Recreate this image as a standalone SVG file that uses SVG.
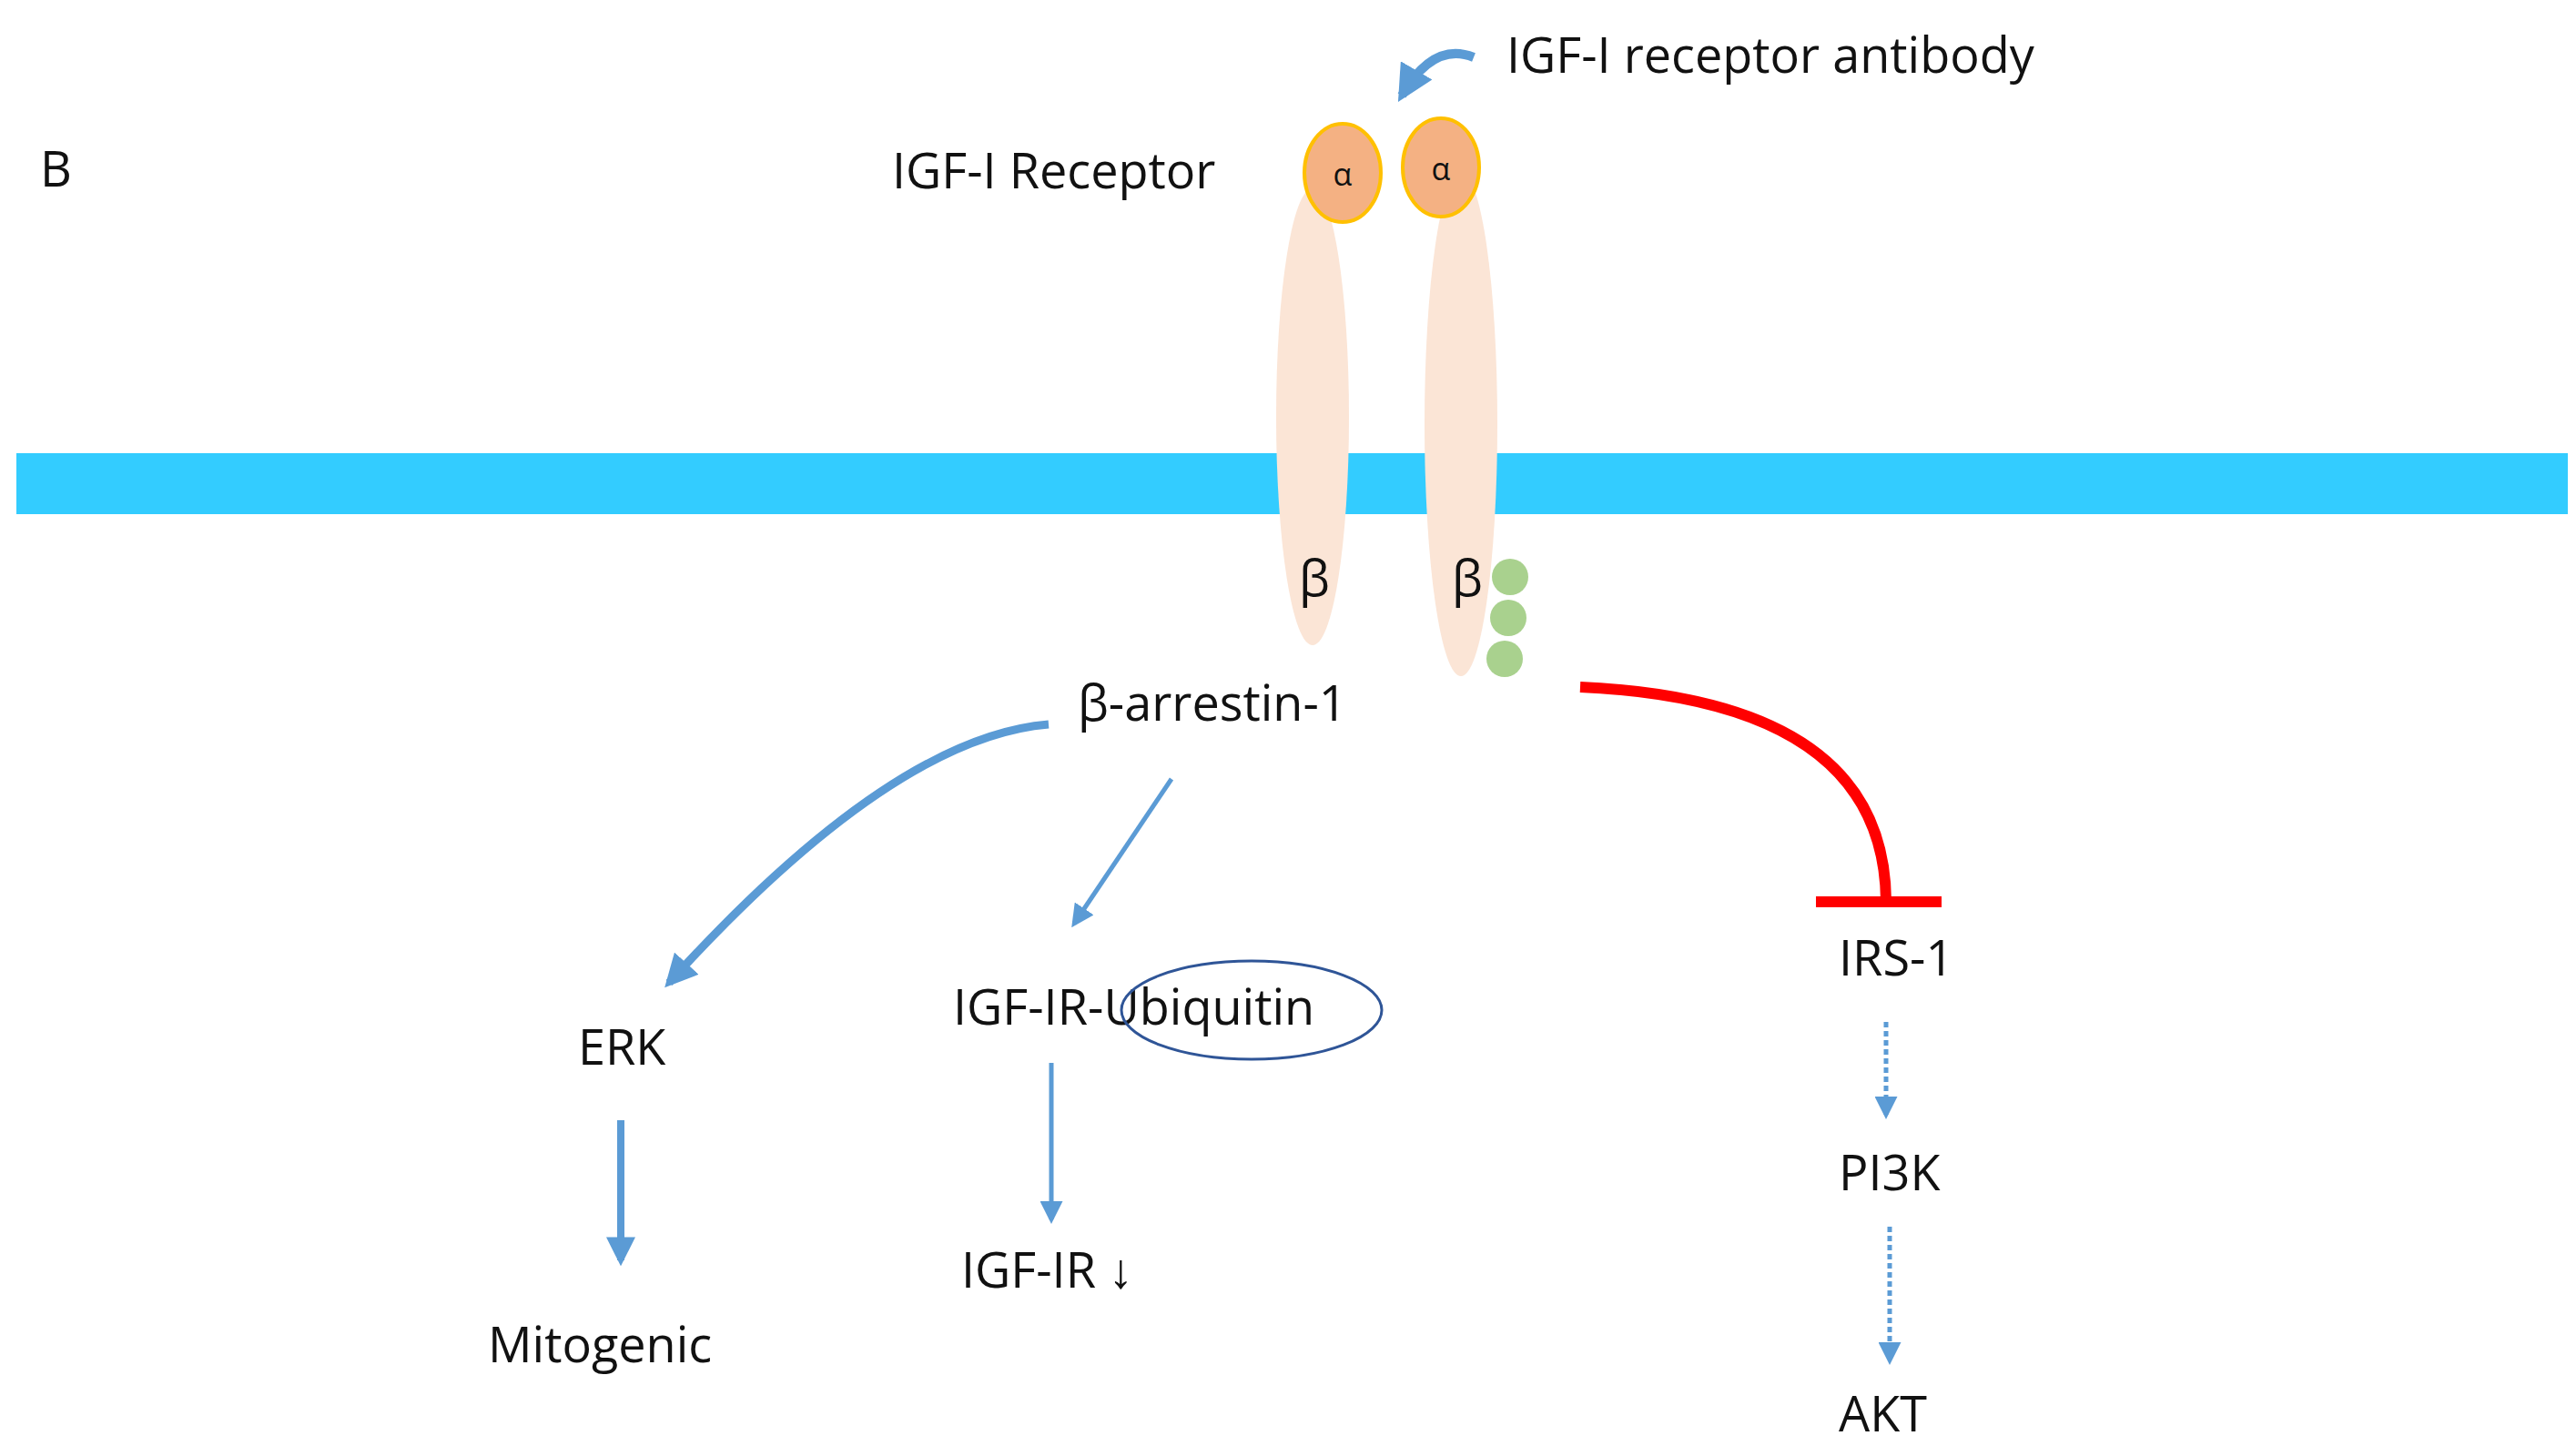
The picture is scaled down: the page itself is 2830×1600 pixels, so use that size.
<svg xmlns="http://www.w3.org/2000/svg" width="2830" height="1600" viewBox="0 0 2830 1600">
<style>
text{font-family:"Open Sans","Liberation Sans",sans-serif;fill:#111}
.t{font-size:54px}
.b{fill:none;stroke:#5b9bd5}
.beta{fill:#fbe5d6}
.alpha{fill:#f4b183;stroke:#ffc000;stroke-width:4}
.g{fill:#a9d18e}
</style>
<defs>
<marker id="ah" viewBox="0 0 10 10" refX="8" refY="5" markerWidth="4" markerHeight="4" orient="auto" markerUnits="strokeWidth"><path d="M0,0L10,5L0,10z" fill="#5b9bd5"/></marker>
<marker id="ah2" viewBox="0 0 10 10" refX="8" refY="5" markerWidth="5" markerHeight="5" orient="auto" markerUnits="strokeWidth"><path d="M0,0L10,5L0,10z" fill="#5b9bd5"/></marker>
</defs>
<rect width="2830" height="1600" fill="#fff"/>
<rect id="membrane" x="18" y="498" width="2803" height="67" fill="#33ccff"/>
<g id="receptor">
<ellipse class="beta" cx="1442" cy="458" rx="40" ry="251"/>
<ellipse class="beta" cx="1605" cy="466" rx="40" ry="277"/>
<ellipse class="alpha" cx="1475" cy="190" rx="42" ry="54"/>
<ellipse class="alpha" cx="1583" cy="184" rx="42" ry="54"/>
<text x="1475" y="204" font-size="34" text-anchor="middle">α</text>
<text x="1583" y="198" font-size="34" text-anchor="middle">α</text>
<text x="1444" y="655" font-size="54" text-anchor="middle">β</text>
<text x="1612" y="655" font-size="54" text-anchor="middle">β</text>
<circle class="g" cx="1659" cy="634" r="20"/>
<circle class="g" cx="1657" cy="679" r="20"/>
<circle class="g" cx="1653" cy="724" r="20"/>
</g>
<g id="labels">
<text x="44" y="205" class="t" font-size="50">B</text>
<text x="980" y="207" class="t">IGF-I Receptor</text>
<text x="1655" y="80" class="t">IGF-I receptor antibody</text>
<text id="arrestin" x="1184" y="792" class="t">β-arrestin-1</text>
<text id="erk" x="635" y="1170" class="t">ERK</text>
<text id="mito" x="536" y="1497" class="t">Mitogenic</text>
<g id="ubiq"><text x="1047" y="1126" class="t">IGF-IR-Ubiquitin</text>
<ellipse cx="1375" cy="1110" rx="143" ry="54" fill="none" stroke="#2f5597" stroke-width="3"/></g>
<text id="igfir" x="1056" y="1415" class="t">IGF-IR ↓</text>
<text id="irs" x="2020" y="1072" class="t">IRS-1</text>
<text id="pi3k" x="2020" y="1308" class="t">PI3K</text>
<text id="akt" x="2020" y="1573" class="t">AKT</text>
</g>
<g id="connectors">
<path class="b" d="M1619,63 Q1575,45 1540,105" stroke-width="10" marker-end="url(#ah)"/>
<path class="b" d="M1152,796 Q980,810 735,1080" stroke-width="9" marker-end="url(#ah)"/>
<path class="b" d="M1287,856 L1180,1015" stroke-width="5" marker-end="url(#ah2)"/>
<path class="b" d="M682,1231 L682,1385" stroke-width="8" marker-end="url(#ah)"/>
<path class="b" d="M1155,1168 L1155,1340" stroke-width="5" marker-end="url(#ah2)"/>
<path class="b" d="M2072,1123 L2072,1225" stroke-width="5" stroke-dasharray="6 4" marker-end="url(#ah2)"/>
<path class="b" d="M2076,1348 L2076,1495" stroke-width="5" stroke-dasharray="6 4" marker-end="url(#ah2)"/>
<path d="M1736,755 Q2070,770 2072,990" fill="none" stroke="#ff0000" stroke-width="12"/>
<path d="M1995,991 L2133,991" stroke="#ff0000" stroke-width="12"/>
</g>
</svg>
